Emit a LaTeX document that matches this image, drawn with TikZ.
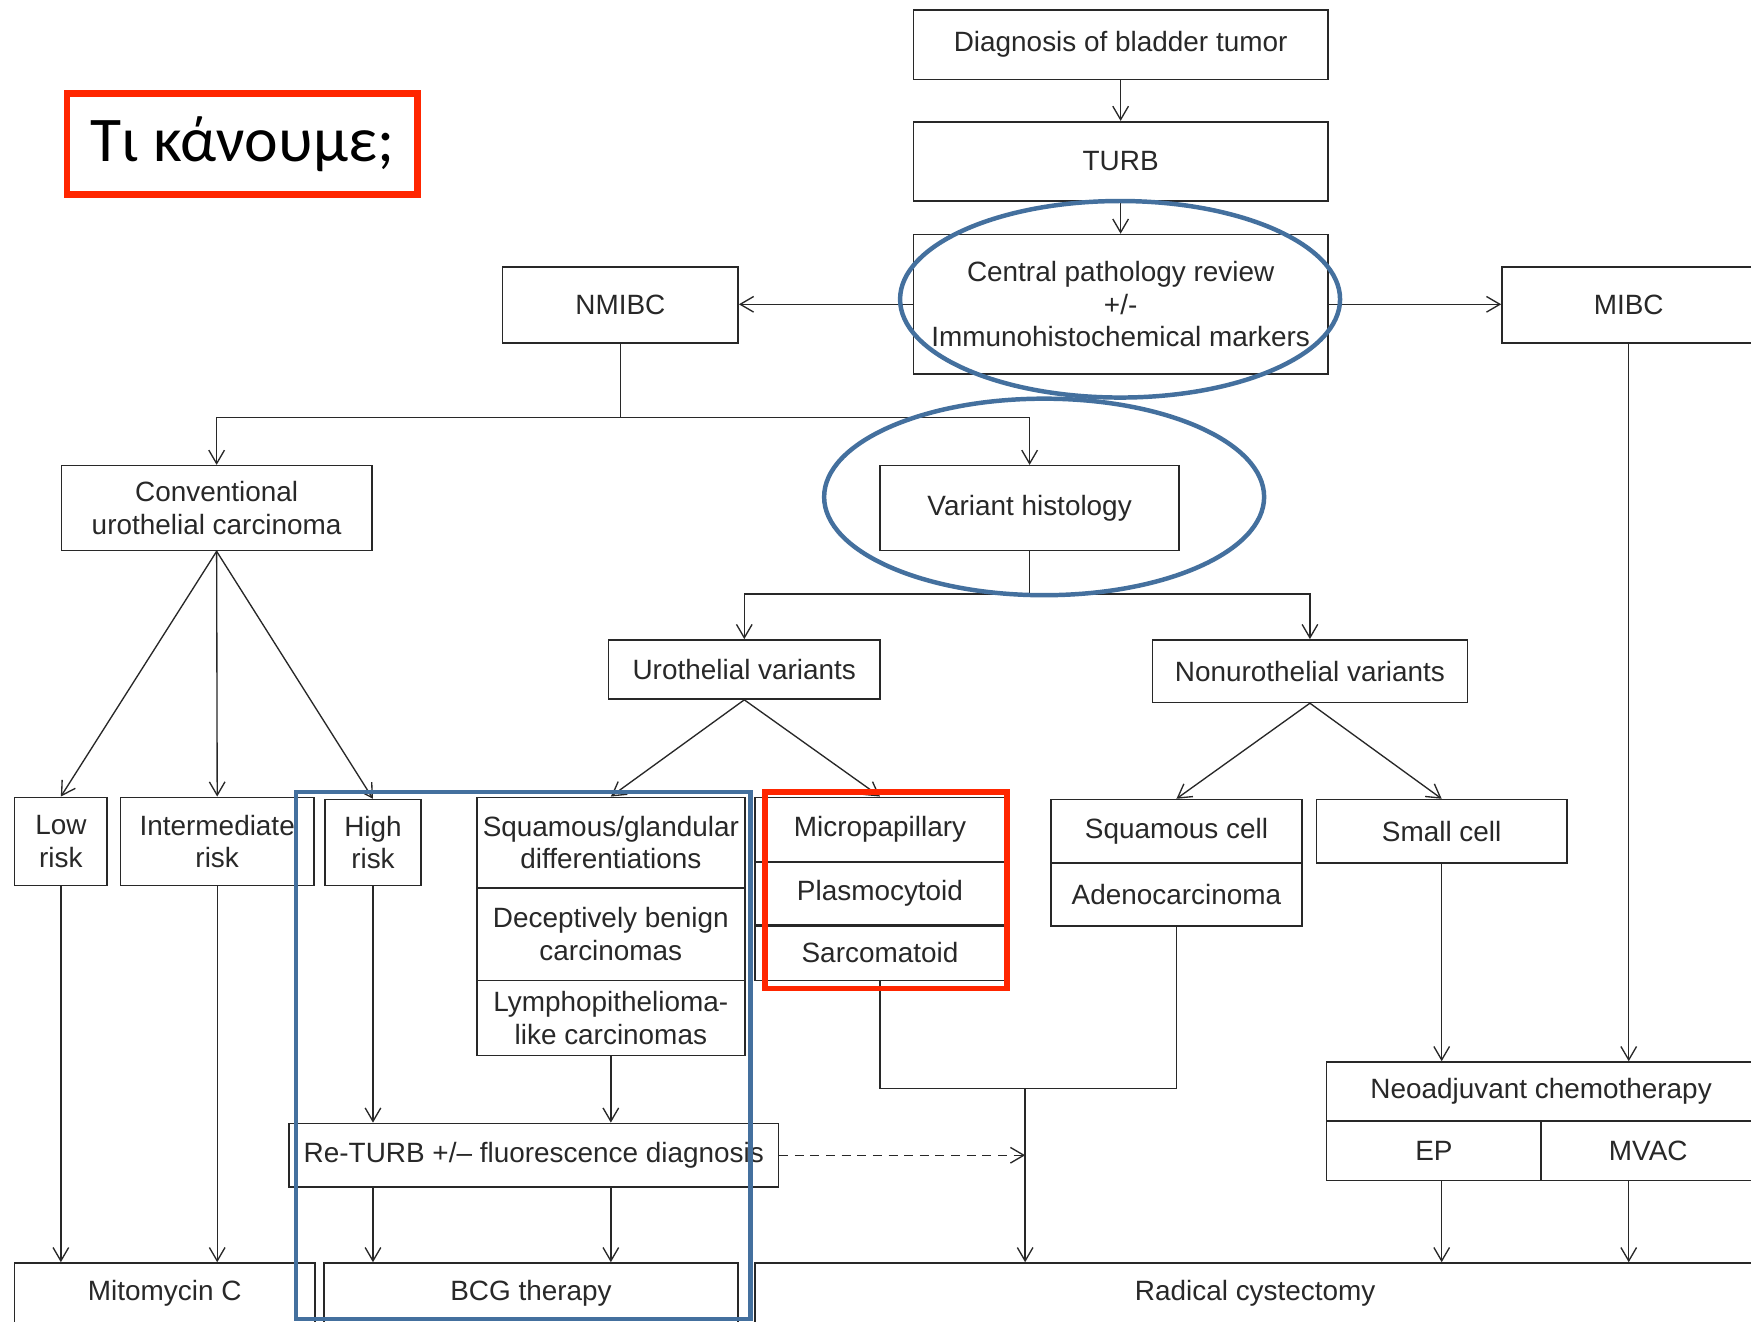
\documentclass[tikz,border=0pt]{standalone}
\usepackage{fontspec}
\setmainfont{Liberation Sans}
\newfontfamily\greekfont{Carlito}
\usetikzlibrary{arrows.meta,calc}
\definecolor{bluec}{RGB}{68,112,158}
\definecolor{redc}{RGB}{255,38,0}
\definecolor{ink}{RGB}{40,40,40}
\newcommand\bx[6]{\node[box, minimum width={(#4-#2)*0.5pt}, minimum height={(#5-#3)*0.5pt}] (#1) at ({(#2+#4)/2},{(#3+#5)/2}) {#6};}
\begin{document}
\begin{tikzpicture}[x=0.5pt,y=-0.5pt,
 box/.style={draw=ink, line width=0.7pt, inner sep=0pt, align=center, text=ink, font=\fontsize{12.5}{14.5}\selectfont},
 arr/.style={draw=ink, line width=0.6pt, -{Straight Barb[length=6pt,width=7pt]}},
 ln/.style={draw=ink, line width=0.6pt},
 hl/.style={draw=bluec, line width=2pt},
 rl/.style={draw=redc, line width=2.5pt}]
\useasboundingbox (0,0) rectangle (1568,1183);
\fill[white] (0,0) rectangle (1568,1183);
\clip (0,0) rectangle (1568,1183);

% title
\node[draw=redc, line width=3pt, inner sep=0pt, minimum width=157pt, minimum height=45pt, font=\greekfont\fontsize{28.5}{34}\selectfont] (q) at (217,129) {Τι κάνουμε;};

% boxes
\bx{diag}{818}{9}{1189}{71}{Diagnosis of bladder tumor}
\bx{turb}{818}{109}{1189}{180}{TURB}
\bx{cpr}{818}{210}{1189}{335}{Central pathology review\\+/-\\Immunohistochemical markers}
\bx{nmibc}{450}{239}{661}{307}{NMIBC}
\bx{mibc}{1345}{239}{1572}{307}{MIBC}
\bx{conv}{55}{417}{333}{493}{Conventional\\urothelial carcinoma}
\bx{var}{788}{417}{1056}{493}{Variant histology}
\bx{uro}{545}{573}{788}{626}{Urothelial variants}
\bx{nonuro}{1032}{573}{1314}{629}{Nonurothelial variants}
\bx{low}{13}{714}{96}{793}{Low\\risk}
\bx{inter}{108}{714}{281}{793}{Intermediate\\risk}
\bx{high}{291}{716}{377}{793}{High\\risk}
\bx{sq1}{427}{714}{667}{795}{Squamous/glandular\\differentiations}
\bx{sq2}{427}{795}{667}{878}{Deceptively benign\\carcinomas}
\bx{sq3}{427}{878}{667}{945}{Lymphopithelioma-\\like carcinomas}
\bx{mp}{676}{714}{900}{772}{Micropapillary}
\bx{pl}{676}{772}{900}{828}{Plasmocytoid}
\bx{sar}{676}{828}{900}{878}{Sarcomatoid}
\draw[ink,line width=1.4pt] (pl.south west) -- (pl.south east);
\bx{sqc}{941}{716}{1166}{773}{Squamous cell}
\bx{adeno}{941}{773}{1166}{829}{Adenocarcinoma}
\bx{small}{1179}{716}{1403}{773}{Small cell}
\bx{returb}{259}{1006}{697}{1063}{Re-TURB +/– fluorescence diagnosis}
\bx{neo}{1188}{951}{1572}{1004}{Neoadjuvant chemotherapy}
\bx{ep}{1188}{1004}{1380}{1057}{EP}
\bx{mvac}{1380}{1004}{1572}{1057}{MVAC}
\bx{mito}{13}{1131}{282}{1186}{Mitomycin C}
\bx{bcg}{290}{1131}{661}{1186}{BCG therapy}
\bx{rc}{676}{1131}{1572}{1186}{Radical cystectomy}

% connectors
\draw[arr] (diag) -- (turb);
\draw[arr] (turb) -- (cpr);
\draw[arr] (cpr.west) -- (cpr.west -| nmibc.east);
\draw[arr] (cpr.east) -- (cpr.east -| mibc.west);
\coordinate (nj) at (555.5,374);
\draw[ln] (nmibc.south) -- (nj);
\draw[arr] (nj) -| (conv.north);
\draw[arr] (nj) -| (var.north);
\coordinate (vj) at (922,532);
\draw[ln] (var.south) -- (vj);
\draw[arr] (vj) -| (uro.north);
\draw[arr] (vj) -| (nonuro.north);
\draw[arr] (conv.south) -- (low.north);
\draw[arr] (conv.south) -- (inter.north);
\draw[arr] (conv.south) -- (high.north);
\draw[arr] (uro.south) -- (sq1.north);
\draw[arr] (uro.south) -- (mp.north);
\draw[arr] (nonuro.south) -- (sqc.north);
\draw[arr] (nonuro.south) -- (small.north);
\draw[arr] (low.south) -- (low.south |- mito.north);
\draw[arr] (inter.south) -- (inter.south |- mito.north);
\draw[arr] (high.south) -- (high.south |- returb.north);
\draw[arr] (sq3.south) -- (sq3.south |- returb.north);
\draw[arr] (high.south |- returb.south) -- (high.south |- bcg.north);
\draw[arr] (sq3.south |- returb.south) -- (sq3.south |- bcg.north);
\coordinate (rj) at (918,975);
\draw[ln] (sar.south) |- (rj) -| (adeno.south);
\draw[arr] (rj) -- (rj |- rc.north);
\draw[arr, dash pattern=on 4pt off 3pt] (returb.east) -- (returb.east -| rj);
\draw[arr] (small.south) -- (small.south |- neo.north);
\draw[arr] (mibc.south) -- (mibc.south |- neo.north);
\draw[arr] (small.south |- ep.south) -- (small.south |- rc.north);
\draw[arr] (mibc.south |- mvac.south) -- (mibc.south |- rc.north);

% highlights
\draw[hl] (1003,268) ellipse [x radius=98.5pt, y radius=44pt];
\draw[hl] (935,445) ellipse [x radius=98.5pt, y radius=44pt];
\draw[rl] (685,709) rectangle (902,885);
\draw[hl] (265,709) rectangle (672,1181);
\end{tikzpicture}
\end{document}
